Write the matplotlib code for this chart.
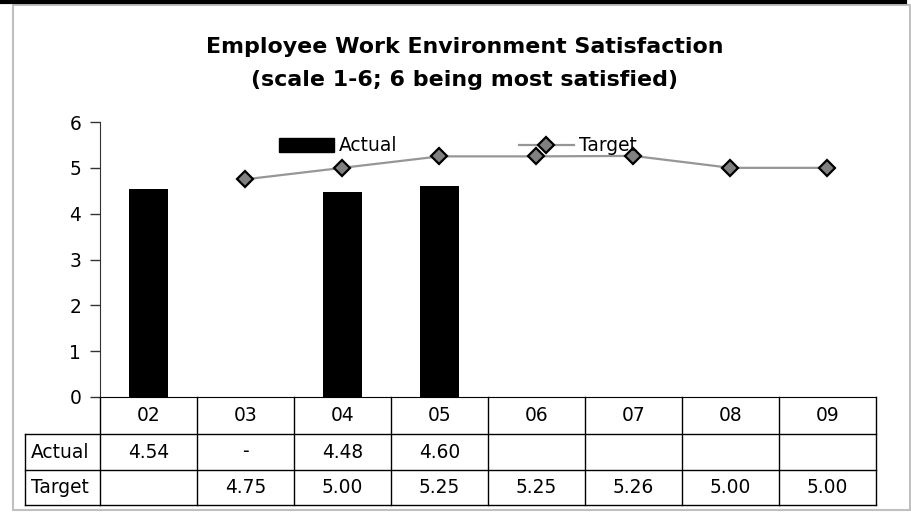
import numpy as np
import matplotlib
matplotlib.use("Agg")
import matplotlib.pyplot as plt
from matplotlib.lines import Line2D
from matplotlib.patches import Rectangle
import matplotlib.transforms as mtrans

plt.rcParams['font.family'] = ['DejaVu Sans']

# data
years = ['02', '03', '04', '05', '06', '07', '08', '09']
actual = [4.54, 0, 4.48, 4.60, None, None, None, None]
target = [None, 4.75, 5.00, 5.25, 5.25, 5.26, 5.00, 5.00]

W, H = 912, 513
FS = 13.4
fig = plt.figure(figsize=(W / 100, H / 100), dpi=100)
ax = fig.add_axes([100 / W, 1 - 397 / H, 776 / W, 275 / H])

bar_x = [i for i, v in enumerate(actual) if v is not None]
bar_h = [v for v in actual if v is not None]
ax.bar(bar_x, bar_h, width=0.41, color='black', label='Actual', zorder=2)

tx = [i for i, v in enumerate(target) if v is not None]
ty = [v for v in target if v is not None]
mk = dict(color='#969696', lw=1.6, marker='D', ms=8.5, mfc='#808080',
          mec='black', mew=1.6)
ax.plot(tx, ty, zorder=3, **mk)

ax.set_xlim(-0.5, len(years) - 0.5)
ax.set_ylim(0, 6)
ax.set_yticks(range(7))
ax.set_xticks([])
for s in ['top', 'right']:
    ax.spines[s].set_visible(False)
ax.spines['left'].set_color('#333333')
ax.spines['bottom'].set_color('black')
ax.tick_params(axis='y', direction='out', length=7, width=1, labelsize=FS,
               pad=6.5, color='#333333')

# legend (no frame, overlapping plot)
handles = [Rectangle((0, 0), 1, 1, color='black'), Line2D([], [], **mk)]
ax.legend(handles, ['Actual', 'Target'], ncol=2, frameon=False,
          loc='center', bbox_to_anchor=(0.461, 0.913), fontsize=FS,
          handlelength=2.96, handleheight=0.8, handletextpad=0.27,
          columnspacing=6.5, borderpad=0, borderaxespad=0)

# title
fig.text(465 / W, 1 - 47 / H, 'Employee Work Environment Satisfaction',
         ha='center', va='center', fontsize=15.9, fontweight='bold')
fig.text(465 / W, 1 - 80 / H, '(scale 1-6; 6 being most satisfied)',
         ha='center', va='center', fontsize=15.9, fontweight='bold')

# data table below the axis
tr = mtrans.blended_transform_factory(ax.transData, ax.transAxes)
px = 275.0
y_hdr = -37 / px
y_act = -73 / px
y_tgt = -108 / px
x_lab = -0.5 + (25 - 100) / 97.0
n = len(years)
lk = dict(color='black', lw=1, transform=tr, clip_on=False)
for yy in [y_hdr, y_act, y_tgt]:
    ax.plot([x_lab, n - 0.5], [yy, yy], **lk)
ax.plot([x_lab, x_lab], [y_hdr, y_tgt], **lk)
for i in range(n + 1):
    ax.plot([i - 0.5, i - 0.5], [0, y_tgt], **lk)

def fmt(v):
    if v is None:
        return ''
    if v == 0:
        return '-'
    return '%.2f' % v

for i, yr in enumerate(years):
    ax.text(i, y_hdr / 2, yr, transform=tr, ha='center', va='center',
            fontsize=FS)
    ax.text(i, (y_hdr + y_act) / 2, fmt(actual[i]), transform=tr,
            ha='center', va='center', fontsize=FS)
    ax.text(i, (y_act + y_tgt) / 2, fmt(target[i]), transform=tr,
            ha='center', va='center', fontsize=FS)
ax.text(x_lab + 0.06, (y_hdr + y_act) / 2, 'Actual', transform=tr,
        ha='left', va='center', fontsize=FS)
ax.text(x_lab + 0.06, (y_act + y_tgt) / 2, 'Target', transform=tr,
        ha='left', va='center', fontsize=FS)

# outer frame
fig.patches.append(Rectangle((13 / W, 1 - 510 / H), 897 / W, 505 / H,
                             transform=fig.transFigure, fill=False,
                             ec='#c0c0c0', lw=1.5))
fig.lines.append(Line2D([0, 905 / W], [1 - 1.5 / H, 1 - 1.5 / H],
                        transform=fig.transFigure, color='black', lw=3))

fig.savefig('out.png', dpi=100)
